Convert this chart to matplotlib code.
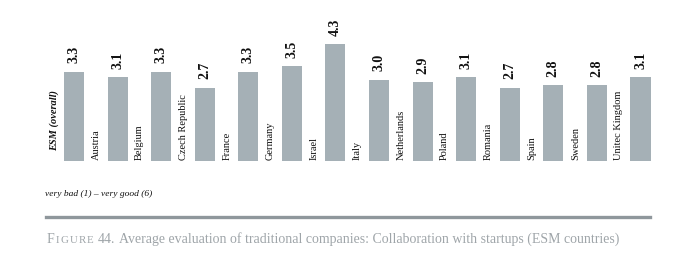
import matplotlib
matplotlib.use('Agg')
import matplotlib.pyplot as plt

plt.rcParams['font.family'] = ['Liberation Serif', 'DejaVu Serif']

# data
countries = ['ESM (overall)', 'Austria', 'Belgium', 'Czech Republic', 'France', 'Germany',
             'Israel', 'Italy', 'Netherlands', 'Poland', 'Romania', 'Spain', 'Sweden',
             'Unitec Kingdom']
scores = [3.3, 3.1, 3.3, 2.7, 3.3, 3.5, 4.3, 3.0, 2.9, 3.1, 2.7, 2.8, 2.8, 3.1]
scale_note = 'very bad (1) – very good (6)'
caption_rest = 'Average evaluation of traditional companies: Collaboration with startups (ESM countries)'

W, H = 689, 277
fig = plt.figure(figsize=(W / 100, H / 100), dpi=100)

# axes placed so bars land where they are in the reference (pixel coords)
step = 43.58
x0 = 74 - step * 1.0
x1 = 640.5 + step * 0.5
base = 161
unit = 27.1
ax = fig.add_axes([x0 / W, (H - base) / H, (x1 - x0) / W, unit * 5 / H])
ax.set_xlim(-1, 13.5)
ax.set_ylim(0, 5)
ax.axis('off')

xs = list(range(len(countries)))
ax.bar(xs, scores, width=0.46, color='#a5b0b6')

for i, (name, val) in enumerate(zip(countries, scores)):
    # value above the bar
    ax.annotate(f'{val:.1f}', (i, val), xytext=(0, 6), textcoords='offset points',
                rotation=90, ha='center', va='bottom', fontsize=10,
                fontweight='bold', color='#111111')
    # country name to the left of the bar
    if i == 0:
        ax.annotate(name, (i, 0), xytext=(-12.5, 7), textcoords='offset points',
                    rotation=90, rotation_mode='anchor', ha='left', va='baseline',
                    fontsize=7.5, fontweight='bold', fontstyle='italic', color='#111111')
    else:
        ax.annotate(name, (i, 0), xytext=(-13.7, 0.7), textcoords='offset points',
                    rotation=90, rotation_mode='anchor', ha='left', va='baseline',
                    fontsize=7.5, color='#111111')

fig.text(45 / W, 1 - 196 / H, scale_note, fontsize=6.8, fontstyle='italic', color='#111111')

# separator line
fig.add_artist(plt.Line2D([46 / W, 650 / W], [1 - 217 / H, 1 - 217 / H],
                          color='#8f979c', linewidth=2.4))

# caption with small caps "Figure"
grey = '#9fa5a9'
cy = 1 - 243 / H
r = fig.canvas.get_renderer()
xpos = 47
for piece, size, gap in [('F', 10, 1.2), ('I', 7.8, 1.2), ('G', 7.8, 1.2), ('U', 7.8, 1.2),
                         ('R', 7.8, 1.2), ('E', 7.8, 4.0), ('44.', 10, 4.0)]:
    t = fig.text(xpos / W, cy, piece, fontsize=size, color=grey)
    bb = t.get_window_extent(r)
    xpos = bb.x1 + gap
fig.text(xpos / W, cy, caption_rest, fontsize=10, color=grey)

fig.savefig('out.png', dpi=100, facecolor='white')
